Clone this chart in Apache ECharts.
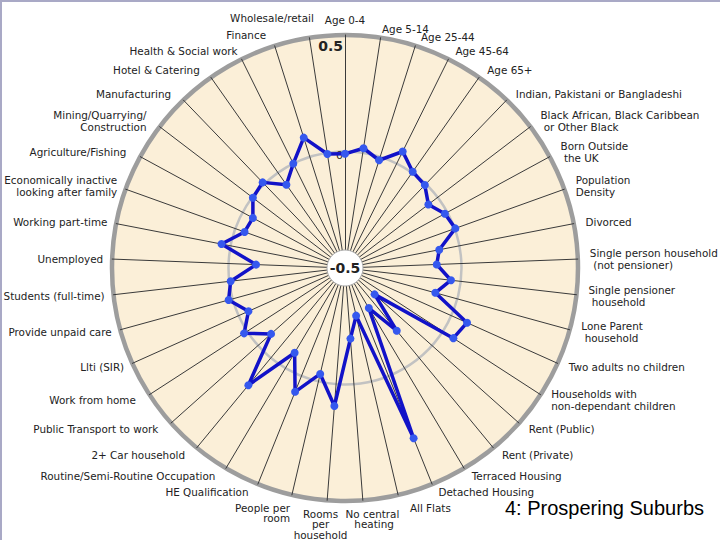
<!DOCTYPE html>
<html>
<head>
<meta charset="utf-8">
<title>4: Prospering Suburbs</title>
<script src="https://cdn.jsdelivr.net/npm/echarts@6/dist/echarts.min.js"></script>
<style>
  html, body { margin: 0; padding: 0; background: #fff; }
  #chart { position: absolute; left: 0; top: 0; width: 720px; height: 540px; }
  #frame { position: absolute; left: 0; top: 0; width: 720px; height: 540px; box-sizing: border-box;
           border-left: 2px solid #a9a9c6; border-top: 2px solid #a9a9c6; pointer-events: none; }
</style>
</head>
<body>
<div id="chart"></div>
<div id="frame"></div>
<script>
// indicators, clockwise from the top
const NAMES = [
  'Age 0-4', 'Age 5-14', 'Age 25-44', 'Age 45-64', 'Age 65+',
  'Indian, Pakistani or Bangladeshi', 'Black African, Black Caribbean\n or Other Black',
  'Born Outside\n the UK', 'Population\nDensity', 'Divorced',
  'Single person household\n (not pensioner)', 'Single pensioner\n household', 'Lone Parent\n household',
  'Two adults no children', 'Households with\nnon-dependant children',
  'Rent (Public)', 'Rent (Private)', 'Terraced Housing', 'Detached Housing', 'All Flats',
  'No central\n heating', 'Rooms\nper\nhousehold', 'People per\n room', 'HE Qualification',
  'Routine/Semi-Routine Occupation', '2+ Car household', 'Public Transport to work',
  'Work from home', 'Llti (SIR)', 'Provide unpaid care', 'Students (full-time)', 'Unemployed',
  'Working part-time', 'Economically inactive\nlooking after family', 'Agriculture/Fishing',
  'Mining/Quarrying/\nConstruction', 'Manufacturing', 'Hotel & Catering', 'Health & Social work',
  'Wholesale/retail', 'Finance'
]

// cluster deviation, same order as NAMES
const VALUES = [
  -0.01, 0.02, -0.015, 0.058, 0.005, -0.006, -0.05, -0.012, 0.003, -0.088,
  -0.106, -0.042, -0.098, 0.074, 0.054, -0.33, -0.151, -0.30, 0.288, -0.29,
  -0.196, 0.094, -0.033, 0.073, -0.077, 0.152, -0.075, 0.016, -0.046, 0.018,
  -0.006, -0.118, 0.04, -0.042, -0.05, -0.003, 0.01, -0.063, 0.0, 0.087, -0.005
]

const AXIS_MIN = -0.5
const AXIS_MAX = 0.5
const TICK_LABELS = { '0.5': '{b|0.5}', '0': '{n|0}' }
const CENTER_LABEL = '-0.5'

const CX = 345, CY = 268, R = 233
const FONT = 'DejaVu Sans'

// hand nudges for names that the slide set apart from the rule
const NAME_TWEAK = {
  19: { padding: [0, 0, 0, 10] },
  20: { align: 'center', padding: [0, 0, 0, 18] },
  21: { align: 'center', padding: [0, 12, 0, 0] },
  38: { padding: 0 },
  39: { align: 'center', verticalAlign: 'bottom', padding: [0, 0, 13, 0] },
  40: { align: 'right', verticalAlign: 'top', padding: [0, 42, 0, 0] }
}

function nameOpts(i) {
  const a = i * 2 * Math.PI / NAMES.length
  const s = Math.sin(a)
  let opts = { nameTextStyle: {} }
  if (Math.abs(a - Math.PI) < Math.PI / 12) {
    // names under the bottom of the disc hang below their spoke
    opts = {
      nameGap: 8,
      nameTextStyle: { verticalAlign: 'top', lineHeight: 10.5,
        align: s > 0.15 ? 'left' : (s < -0.05 ? 'right' : 'center') }
    }
  } else if (s > 0.3) {
    opts.nameTextStyle.padding = [0, 0, 0, 3]
  } else if (s < -0.3 && s > -0.9) {
    opts.nameTextStyle.padding = [0, 6, 0, 0]
  }
  Object.assign(opts.nameTextStyle, NAME_TWEAK[i])
  return opts
}

// radar runs counter-clockwise, so walk the list backwards keeping item 0 on top
const order = NAMES.map((_, i) => (NAMES.length - i) % NAMES.length)

const indicators = order.map((i, k) => {
  const ind = Object.assign({ name: NAMES[i], min: AXIS_MIN, max: AXIS_MAX }, nameOpts(i))
  if (k === 0) {
    ind.axisLabel = {
      show: true,
      margin: 2,
      formatter: v => TICK_LABELS[String(v)] || '',
      rich: {
        b: { fontFamily: FONT, fontWeight: 'bold', fontSize: 14, color: '#222', padding: [22, 0, 0, 0] },
        n: { fontFamily: FONT, fontSize: 11, color: '#222', padding: [8, 0, 0, 0] }
      }
    }
  }
  return ind
})

const chart = echarts.init(document.getElementById('chart'), null, { renderer: 'svg' })
chart.setOption({
  animation: false,
  title: {
    text: '4: Prospering Suburbs',
    left: 500, top: 493,
    textStyle: { fontFamily: 'Liberation Sans', fontWeight: 'normal', fontSize: 20, color: '#000' }
  },
  radar: [
    {
      center: [CX, CY],
      radius: R,
      shape: 'circle',
      splitNumber: 2,
      indicator: indicators,
      nameGap: 9,
      axisName: { color: '#222', fontFamily: FONT, fontSize: 10.4, lineHeight: 12 },
      axisLine: { lineStyle: { color: '#3a3a3a', width: 1 } },
      axisTick: { show: false },
      axisLabel: { show: false },
      splitLine: { lineStyle: { color: ['transparent', '#c2c2c2', 'transparent'], width: 2.5 } },
      splitArea: { areaStyle: { color: ['#fbefd8', '#fbefd8'] } }
    },
    {
      // thick outer rim
      center: [CX, CY],
      radius: R,
      shape: 'circle',
      splitNumber: 1,
      indicator: indicators.map(() => ({ name: '', min: AXIS_MIN, max: AXIS_MAX })),
      axisName: { show: false },
      axisLine: { show: false },
      axisTick: { show: false },
      axisLabel: { show: false },
      splitLine: { lineStyle: { color: ['transparent', '#9d9d9d'], width: 4.5 } },
      splitArea: { show: false }
    }
  ],
  series: [{
    type: 'radar',
    radarIndex: 0,
    z: 5,
    symbol: 'circle',
    symbolSize: 8,
    lineStyle: { color: '#1212c8', width: 3.5 },
    itemStyle: { color: '#3558ee' },
    data: [{ value: order.map(i => VALUES[i]) }]
  }],
  graphic: [
    { type: 'circle', z: 4, shape: { cx: CX, cy: CY, r: 18 }, style: { fill: '#fff', stroke: '#aaa', lineWidth: 1 } },
    { type: 'text', z: 4, x: CX, y: CY, style: { text: CENTER_LABEL, align: 'center', verticalAlign: 'middle',
      font: 'bold 14px "DejaVu Sans"', fill: '#222' } }
  ]
})
window.addEventListener('resize', () => chart.resize())
</script>
</body>
</html>
